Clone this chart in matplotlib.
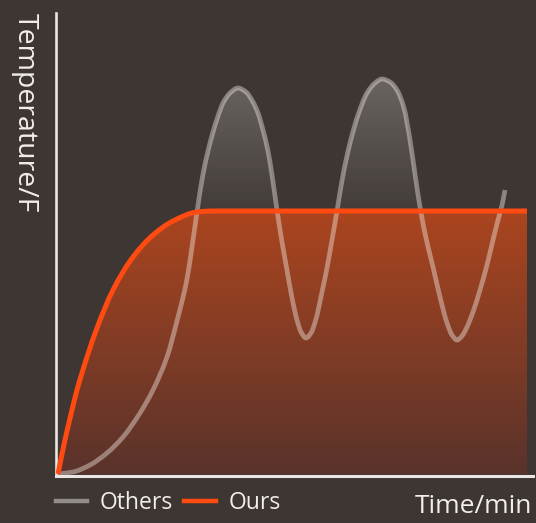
import numpy as np
import matplotlib
matplotlib.use("Agg")
import matplotlib.pyplot as plt  # noqa: E402
from matplotlib.lines import Line2D  # noqa: E402
from matplotlib.path import Path  # noqa: E402
from matplotlib.patches import PathPatch  # noqa: E402

plt.rcParams["font.family"] = ["Open Sans", "DejaVu Sans"]

# values (time in min, temperature in F, arbitrary scale)
ours_t = [0, 0.8, 1.8, 2.8, 3.8, 5.8, 7.8, 11.0, 15.0, 19.0, 23.0, 27.8,
          31.0, 93.8]
ours_T = [0, 20, 43, 64, 84, 117, 146, 184, 217, 239, 253, 262,
          263, 263]

others_t = [0, 3.0, 6.4, 9.8, 13.0, 16.4, 19.0, 21.8, 23.8, 25.8, 26.8, 27.8,
            29.0, 30.0, 31.0, 32.0, 33.0, 34.4, 36.0, 37.6, 39.0, 40.0, 41.0,
            42.0, 42.8, 43.8, 44.8, 45.8, 46.8, 47.8, 48.6, 49.6, 50.6, 51.6,
            52.8, 53.8, 54.8, 55.8, 57.0, 58.4, 60.0, 61.8, 63.4, 64.8, 66.4,
            67.8, 69.2, 70.4, 71.4, 72.4, 73.6, 75.0, 76.4, 77.8, 78.8, 79.8,
            80.8, 81.8, 83.0, 84.4, 85.8, 87.0, 88.0, 88.8, 89.4]
others_T = [0, 2, 9, 21, 37, 61, 84, 117, 153, 195, 227, 262,
            300, 323, 342, 358, 371, 381, 386, 382, 372, 361, 344,
            323, 299, 264, 232, 204, 176, 154, 142, 136, 141, 155,
            182, 206, 234, 263, 299, 331, 359, 381, 391, 395, 392,
            384, 366, 334, 300, 267, 236, 207, 177, 151, 139, 134,
            138, 147, 162, 184, 209, 234, 254, 269, 284]

PLATEAU = 263
labels = ["Others", "Ours"]

BG = "#3d3632"
TXT = "#f2eeea"
ORANGE = "#ff4a12"
GREY = "#928d89"


def smooth_path(x, y, close_to=None):
    """Cubic Bezier path through the read points (monotone Hermite slopes)."""
    x = np.asarray(x, float)
    y = np.asarray(y, float)
    h = np.diff(x)
    d = np.diff(y) / h
    m = np.zeros_like(x)
    m[0], m[-1] = d[0], d[-1]
    for k in range(1, len(x) - 1):
        if d[k - 1] * d[k] > 0:
            w1 = 2 * h[k] + h[k - 1]
            w2 = h[k] + 2 * h[k - 1]
            m[k] = (w1 + w2) / (w1 / d[k - 1] + w2 / d[k])
    verts = [(x[0], y[0])]
    codes = [Path.MOVETO]
    for k in range(len(x) - 1):
        verts += [(x[k] + h[k] / 3, y[k] + m[k] * h[k] / 3),
                  (x[k + 1] - h[k] / 3, y[k + 1] - m[k + 1] * h[k] / 3),
                  (x[k + 1], y[k + 1])]
        codes += [Path.CURVE4] * 3
    if close_to is not None:
        verts += [(x[-1], close_to), (x[0], close_to), (x[0], close_to)]
        codes += [Path.LINETO, Path.LINETO, Path.CLOSEPOLY]
    return Path(verts, codes)


fig = plt.figure(figsize=(5.36, 5.23), dpi=100, facecolor=BG)
ax = fig.add_axes([55.5 / 536, 47 / 523, 477.5 / 536, 463 / 523])
ax.set_facecolor("none")
XLIM, YLIM = (-0.5, 95), (-2, 461)
ax.set_xticks([])
ax.set_yticks([])
for s in ("top", "right"):
    ax.spines[s].set_visible(False)
ax.spines["left"].set_color("#ebe6e1")
ax.spines["left"].set_linewidth(1.9)
ax.spines["bottom"].set_color("#ebe6e1")
ax.spines["bottom"].set_linewidth(2.2)


def gradient_fill(clip_path, x0, x1, y0, y1, c_bottom, c_top, z):
    """Vertical gradient over [x0,x1]x[y0,y1], clipped to clip_path."""
    cb = np.array(c_bottom, float)
    ct = np.array(c_top, float)
    f = np.linspace(0, 1, 256)[:, None]
    grad = (cb + (ct - cb) * f)[:, None, :]
    im = ax.imshow(grad, extent=[x0, x1, y0, y1], origin="lower",
                   aspect="auto", zorder=z, interpolation="bilinear")
    clip = PathPatch(clip_path, transform=ax.transData,
                     facecolor="none", edgecolor="none")
    ax.add_patch(clip)
    im.set_clip_path(clip)


# orange area under our curve
gradient_fill(smooth_path(ours_t, ours_T, close_to=0), ours_t[0], ours_t[-1],
              0, PLATEAU, (0.35, 0.20, 0.17, 1.0), (0.67, 0.27, 0.12, 1.0), 1)

# grey glow inside the overshoot peaks (band above the plateau only)
gradient_fill(smooth_path(others_t, others_T, close_to=0), XLIM[0], XLIM[1],
              PLATEAU, 400, (1, 1, 1, 0.03), (1, 1, 1, 0.24), 1.5)

ax.add_patch(PathPatch(smooth_path(others_t, others_T), facecolor="none",
                       edgecolor="#f5ede8", alpha=0.42, lw=3.4,
                       capstyle="butt", zorder=3))
ax.add_patch(PathPatch(smooth_path(ours_t, ours_T), facecolor="none",
                       edgecolor=ORANGE, lw=3.6, capstyle="butt", zorder=4))

ax.set_xlim(*XLIM)
ax.set_ylim(*YLIM)

fig.text(24.5 / 536, 1 - 13 / 523, "Temperature/F", rotation=-90,
         ha="center", va="top", color=TXT, fontsize=20.5)
fig.text(532 / 536, 1 - 513 / 523, "Time/min", ha="right", va="baseline",
         color=TXT, fontsize=19)

handles = [Line2D([], [], color=GREY, lw=3.2),
           Line2D([], [], color=ORANGE, lw=3.2)]
fig.legend(handles, labels, loc="center left", ncol=2, frameon=False,
           bbox_to_anchor=(56 / 536, 1 - 503 / 523), borderpad=0,
           borderaxespad=0, fontsize=16.5, labelcolor=TXT,
           handlelength=1.36, handletextpad=0.55, columnspacing=0.5)

fig.savefig("out.png", dpi=100, facecolor=BG)
